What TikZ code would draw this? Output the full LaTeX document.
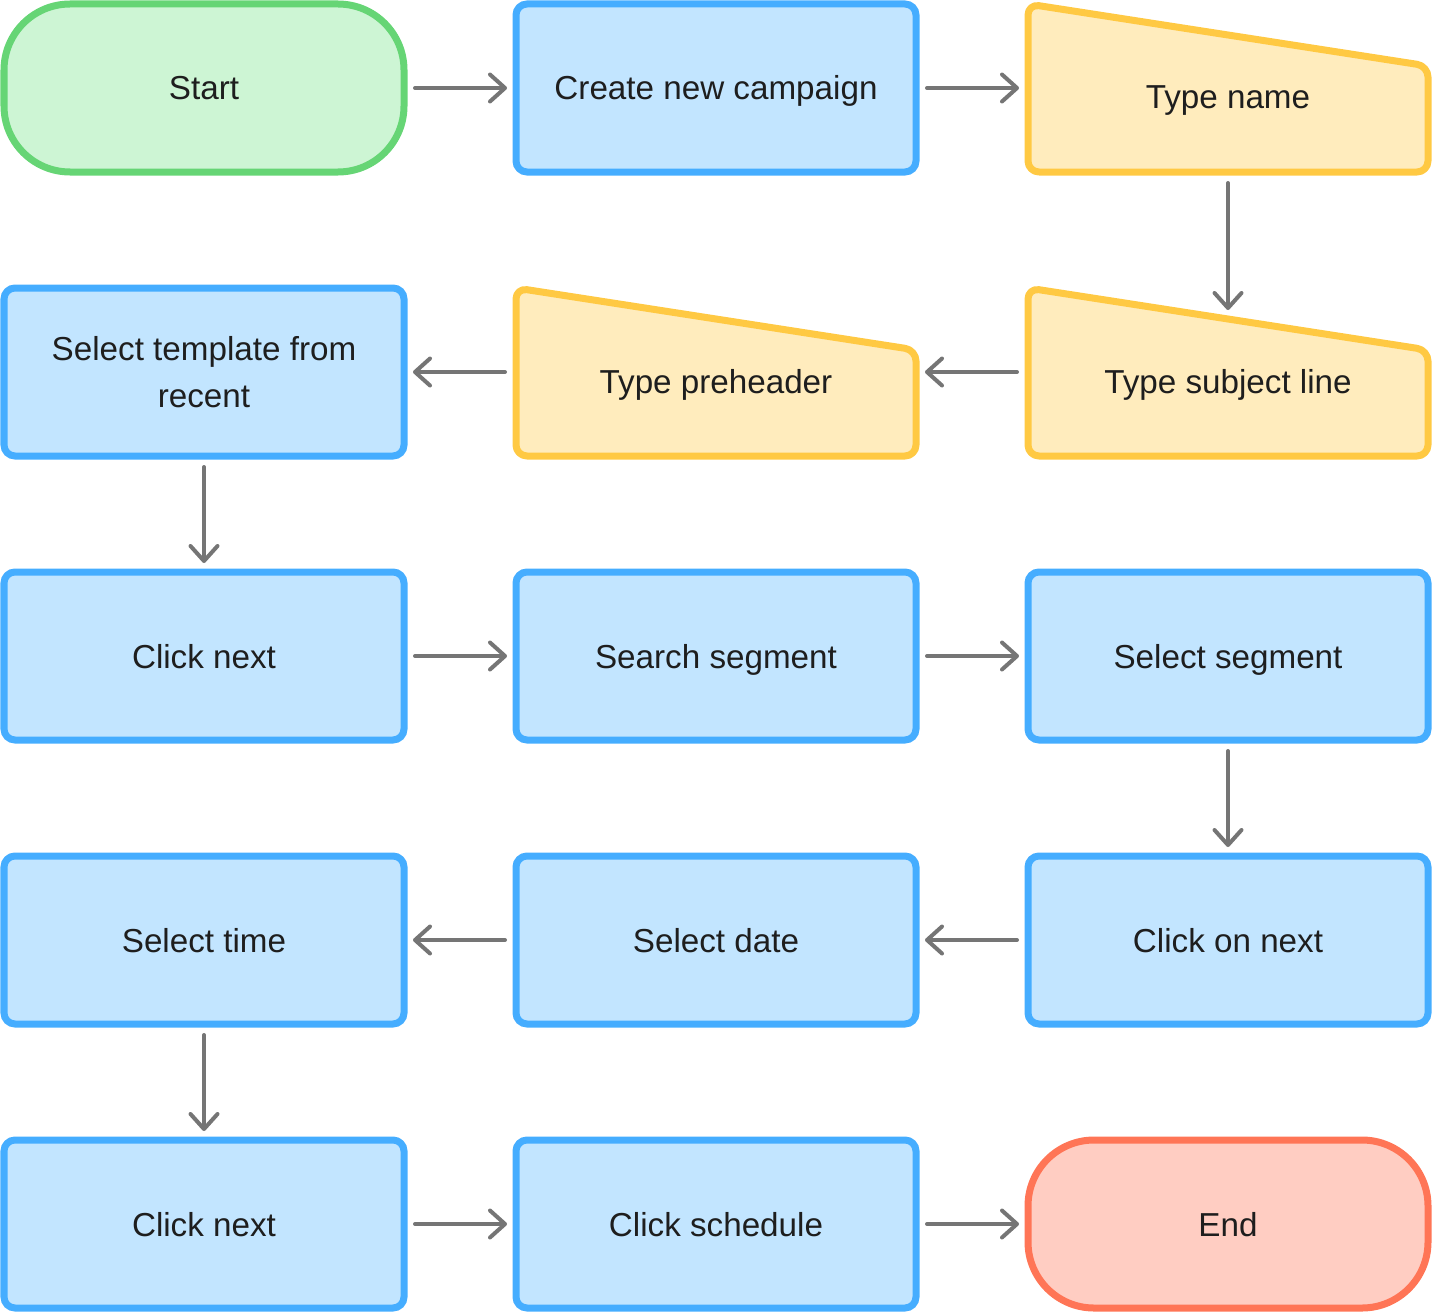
\documentclass[tikz,border=0pt]{standalone}
\usepackage{fontspec}
\setmainfont{Liberation Sans}
\usetikzlibrary{arrows.meta,backgrounds}

\definecolor{greenline}{HTML}{66D575}
\definecolor{greenfill}{HTML}{CDF5D4}
\definecolor{blueline}{HTML}{45ADFF}
\definecolor{bluefill}{HTML}{C2E5FF}
\definecolor{yellowline}{HTML}{FFC943}
\definecolor{yellowfill}{HTML}{FFECBD}
\definecolor{redline}{HTML}{FF7556}
\definecolor{redfill}{HTML}{FFCDC2}
\definecolor{arrowgray}{HTML}{757575}
\definecolor{ink}{HTML}{1E1E1E}

\newcommand{\boxfont}{\fontsize{18.9}{26.6}\selectfont}

\tikzset{
  stepbox/.style={rectangle, rounded corners=.22cm, draw=blueline, fill=bluefill,
    line width=1.4mm, minimum width=8cm, minimum height=3.36cm, outer sep=0pt,
    text=ink, font=\boxfont},
  oneline/.style={text height=.48cm, text depth=0cm},
  terminal/.style={stepbox, oneline, rounded corners=1.32cm},
  manual/.style={rectangle, minimum width=8cm, minimum height=3.36cm, outer sep=0pt,
    text=ink, font=\boxfont, text height=.84cm, text depth=0cm},
  slant/.style={draw=yellowline, fill=yellowfill, line width=1.4mm,
    rounded corners=.22cm, line join=round},
  arr/.style={draw=arrowgray, line width=.8mm, line cap=round,
    -{Straight Barb[length=3mm,width=5.4mm,round]},
    shorten <=2.2mm, shorten >=1.8mm}
}

\begin{document}
\begin{tikzpicture}
        \useasboundingbox (0, 0) rectangle (28.64, -26.24);
        % row 1
        \node[terminal, draw=greenline, fill=greenfill] (start) at (4.08, -1.76) {Start};
        \node[stepbox, oneline] (campaign) at (14.32, -1.76) {Create new campaign};
        \node[manual] (tname) at (24.56, -1.76) {Type name};
        % row 2
        \node[stepbox, align=center] (template) at (4.08, -7.44) {Select template from\\recent};
        \node[manual] (tpre) at (14.32, -7.44) {Type preheader};
        \node[manual] (tsubj) at (24.56, -7.44) {Type subject line};
        % row 3
        \node[stepbox, oneline] (next1) at (4.08, -13.12) {Click next};
        \node[stepbox, oneline] (search) at (14.32, -13.12) {Search segment};
        \node[stepbox, oneline] (segment) at (24.56, -13.12) {Select segment};
        % row 4
        \node[stepbox, oneline] (time) at (4.08, -18.80) {Select time};
        \node[stepbox, oneline] (date) at (14.32, -18.80) {Select date};
        \node[stepbox, oneline] (clicknext) at (24.56, -18.80) {Click on next};
        % row 5
        \node[stepbox, oneline] (next2) at (4.08, -24.48) {Click next};
        \node[stepbox, oneline] (schedule) at (14.32, -24.48) {Click schedule};
        \node[terminal, draw=redline, fill=redfill] (stop) at (24.56, -24.48) {End};
        % slanted input boxes
        \begin{scope}[on background layer]
        \foreach \n in {tname, tpre, tsubj}
        \draw[slant] (\n.north west) -- ([yshift=-1.24cm]\n.north east) -- (\n.south east)
              -- (\n.south west) -- cycle;
        \end{scope}
        \coordinate (tsubjtop) at ([yshift=-.62cm]tsubj.north);
        % connectors
        \foreach \a/\b in {start/campaign, campaign/tname, tname/tsubjtop, tsubj/tpre,
              tpre/template, template/next1, next1/search, search/segment,
              segment/clicknext, clicknext/date, date/time, time/next2,
              next2/schedule, schedule/stop}
        \draw[arr] (\a) -- (\b);
\end{tikzpicture}
\end{document}
